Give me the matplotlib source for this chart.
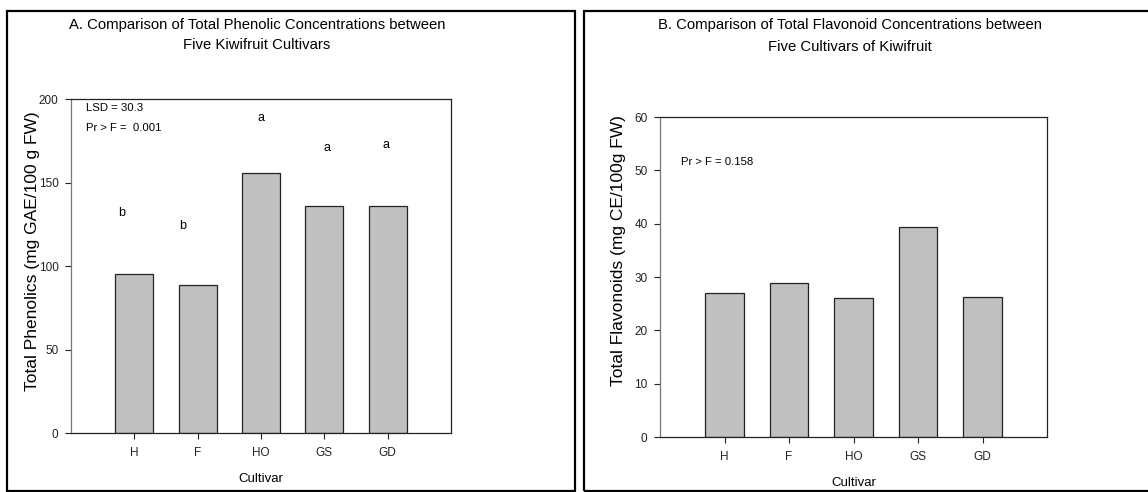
import matplotlib
matplotlib.use("Agg")
import matplotlib.pyplot as plt
from matplotlib.patches import Rectangle

plt.rcParams['font.family'] = ['Liberation Sans', 'DejaVu Sans']

W, H = 1148, 492

cultivars = ["H", "F", "HO", "GS", "GD"]
phenolics = [95.2, 88.6, 155.7, 135.9, 135.8]
phenolic_letters = ["b", "b", "a", "a", "a"]
letter_y = [132, 124, 188.5, 170.5, 172.5]
letter_dx = [-0.2, -0.24, 0.0, 0.05, -0.02]
flavonoids = [27.0, 28.9, 26.1, 39.4, 26.3]

BAR_COLOR = "#c0c0c0"


def px_box(x0, y0, x1, y1):
    # pixel box (top-left origin) -> figure fraction rect
    return [x0 / W, 1 - y1 / H, (x1 - x0) / W, (y1 - y0) / H]


def style_axes(ax, ymax, step):
    ax.set_xlim(0, 6)
    ax.set_ylim(0, ymax)
    ax.set_yticks(range(0, ymax + 1, step))
    ax.set_xticks(range(1, 6))
    ax.set_xticklabels(cultivars)
    for s in ax.spines.values():
        s.set_linewidth(0.9)
        s.set_color("#222222")
    ax.spines['left'].set_color("#777777")
    ax.tick_params(direction='out', length=4, width=0.8, labelsize=8.5,
                   colors="#222222", top=False, right=False, pad=5)
    ax.tick_params(axis='x', pad=6)


def main():
    fig = plt.figure(figsize=(W / 100, H / 100), dpi=100)

    # panel frames
    for x0, x1 in [(7, 575), (584, 1152)]:
        fig.patches.append(Rectangle((x0 / W, 1 - 491 / H), (x1 - x0) / W, 480 / H,
                                     transform=fig.transFigure, fill=False,
                                     edgecolor="black", linewidth=1.6))

    # panel A
    ax1 = fig.add_axes(px_box(71, 99, 451, 433))
    pos = list(range(1, 6))
    ax1.bar(pos, phenolics, width=0.6, color=BAR_COLOR, edgecolor="#222222", linewidth=0.9)
    style_axes(ax1, 200, 50)
    for i, (lt, ly) in enumerate(zip(phenolic_letters, letter_y)):
        ax1.text(pos[i] + letter_dx[i], ly, lt, ha='center', va='center', fontsize=9)
    ax1.text(0.04, 0.972, "LSD = 30.3", transform=ax1.transAxes, fontsize=8.2, va='center')
    ax1.text(0.04, 0.912, "Pr > F =  0.001", transform=ax1.transAxes, fontsize=8.2, va='center')
    fig.text(33 / W, 1 - 251 / H, "Total Phenolics (mg GAE/100 g FW)", rotation=90,
             ha='center', va='center', fontsize=12.5)
    ax1.set_xlabel("Cultivar", fontsize=9.5, labelpad=10)
    fig.text(257 / W, 1 - 25 / H, "A. Comparison of Total Phenolic Concentrations between",
             ha='center', va='center', fontsize=10.7)
    fig.text(257 / W, 1 - 45 / H, "Five Kiwifruit Cultivars",
             ha='center', va='center', fontsize=10.7)

    # panel B
    ax2 = fig.add_axes(px_box(660, 117, 1047, 437))
    ax2.bar(pos, flavonoids, width=0.6, color=BAR_COLOR, edgecolor="#222222", linewidth=0.9)
    style_axes(ax2, 60, 10)
    ax2.text(0.055, 0.86, "Pr > F = 0.158", transform=ax2.transAxes, fontsize=8.2, va='center')
    fig.text(619 / W, 1 - 251 / H, "Total Flavonoids (mg CE/100g FW)", rotation=90,
             ha='center', va='center', fontsize=12.5)
    ax2.set_xlabel("Cultivar", fontsize=9.5, labelpad=10)
    fig.text(850 / W, 1 - 25 / H, "B. Comparison of Total Flavonoid Concentrations between",
             ha='center', va='center', fontsize=10.7)
    fig.text(850 / W, 1 - 47 / H, "Five Cultivars of Kiwifruit",
             ha='center', va='center', fontsize=10.7)

    fig.savefig("out.png", dpi=100)


if __name__ == "__main__":
    main()
